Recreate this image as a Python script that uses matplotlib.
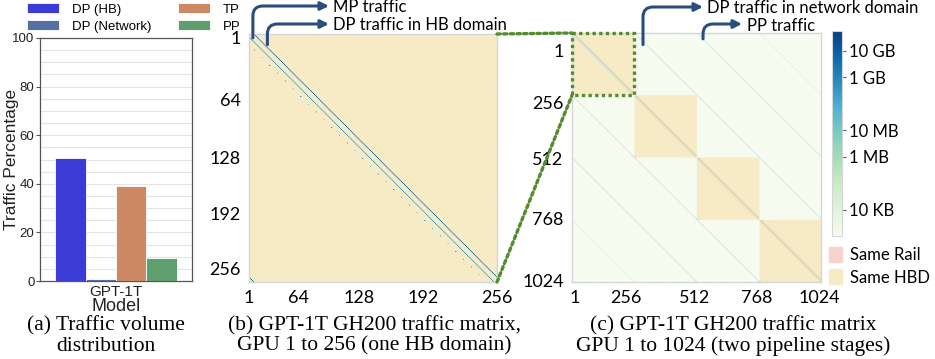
import numpy as np
import matplotlib
matplotlib.use("Agg")
import matplotlib.pyplot as plt
from matplotlib.colors import LogNorm, to_rgb
from matplotlib.patches import Patch, Rectangle, ConnectionPatch, FancyArrowPatch
from matplotlib.cm import ScalarMappable
from matplotlib import font_manager as fm

# ---------------- data ----------------
categories = ["GPT-1T"]
series_names = ["DP (HB)", "DP (Network)", "TP", "PP"]
series_values = [50.5, 0.8, 39.0, 9.5]
series_colors = ["#3b3bd6", "#5470a0", "#cc8963", "#5f9e6e"]

# traffic-matrix patterns (bytes per GPU pair)
N_HB = 256
N_GPU = 1024
mp_shift = 5
mp_bytes = 8.0e9
dp_hb_shift = -3
dp_hb_bytes = 4.0e8
dp_dot_shift = -11
dp_dot_step = 8
dp_dot_bytes = [5e9, 1e8, 1e9, 3e7]
dp_net_shifts = [256, -256]
dp_net_bytes = 1.0e9
pp_shifts = [512, -512]
pp_bytes = 1.0e9
far_shifts = [768, -768]
far_bytes = 5e6

cbar_ticks = [1e4, 1e6, 1e7, 1e9, 1e10]
cbar_labels = ["10 KB", "1 MB", "10 MB", "1 GB", "10 GB"]
vmin, vmax = 1e3, 10 ** 10.75

b_tick_labels = ["1", "64", "128", "192", "256"]
b_xtick_pos = [0, 51, 114, 180, 256]
b_ytick_pos = [4, 68, 127, 185, 242]
c_tick_labels = ["1", "256", "512", "768", "1024"]
c_xtick_pos = [12, 222, 506, 761, 1016]
c_ytick_pos = [70, 284, 518, 761, 1016]

# ---------------- fonts ----------------
def have(fam):
    try:
        fm.findfont(fm.FontProperties(family=fam), fallback_to_default=False)
        return True
    except Exception:
        return False

NARROW = "Liberation Sans Narrow" if have("Liberation Sans Narrow") else "Liberation Sans"
SANS = "Lato"
SERIF = "Liberation Serif"

W, H = 935, 359
fig = plt.figure(figsize=(W / 100, H / 100), dpi=100)

def px(x, y):
    return (x / W, 1 - y / H)

def rect(l, t, r, b):
    return [l / W, 1 - b / H, (r - l) / W, (b - t) / H]

# ---------------- panel (a) ----------------
ax_a = fig.add_axes(rect(40, 38, 192, 281))
n = len(series_names)
bw = 0.8 / n
for i, (nm, v, c) in enumerate(zip(series_names, series_values, series_colors)):
    xpos = np.arange(len(categories)) - 0.4 + bw * (i + 0.5)
    ax_a.bar(xpos, [v], width=bw, color=c, edgecolor="white", linewidth=0.6, label=nm, zorder=3)
ax_a.set_xlim(-0.5, 0.5)
ax_a.set_ylim(0, 100)
ax_a.set_yticks(np.arange(0, 101, 20))
ax_a.set_yticks(np.arange(0, 101, 5), minor=True)
ax_a.grid(True, which="both", axis="y", color="#e4e4e4", linewidth=0.8, zorder=0)
ax_a.set_xticks(range(len(categories)))
ax_a.set_xticklabels(categories, fontsize=11, family=NARROW, color="#222222")
ax_a.tick_params(axis="x", length=0, pad=3)
ax_a.tick_params(axis="y", which="major", length=3, color="#555555", labelsize=9.5, pad=1)
ax_a.tick_params(axis="y", which="minor", length=0)
for lab in ax_a.get_yticklabels():
    lab.set_family(NARROW)
    lab.set_color("#222222")
ax_a.set_ylabel("Traffic Percentage", family=NARROW, fontsize=12.5, color="#222222")
ax_a.yaxis.set_label_coords(-0.138, 0.5)
ax_a.set_xlabel("Model", family=NARROW, fontsize=13, color="#222222", labelpad=-1)
for s in ax_a.spines.values():
    s.set_color("#555555")
    s.set_linewidth(0.9)
h, l = ax_a.get_legend_handles_labels()
fig.legend(h, l, ncol=2,
           loc="upper left", bbox_to_anchor=px(22, -2), frameon=False,
           prop={"family": NARROW, "size": 9.5}, handlelength=2.4, handleheight=0.75,
           columnspacing=2.0, labelspacing=0.35, handletextpad=1.0, borderaxespad=0)

# ---------------- traffic matrices ----------------
def build_matrix(n_gpu):
    M = np.zeros((n_gpu, n_gpu))
    hbd = np.zeros((n_gpu, n_gpu), dtype=bool)
    for b0 in range(0, n_gpu, N_HB):
        hbd[b0:b0 + N_HB, b0:b0 + N_HB] = True
        for r in range(N_HB):
            M[b0 + r, b0 + (r + mp_shift) % N_HB] = mp_bytes
            cc = r + dp_hb_shift
            if 0 <= cc < N_HB:
                M[b0 + r, b0 + cc] = dp_hb_bytes
            cd = r + dp_dot_shift
            if 0 <= cd < N_HB and r % dp_dot_step == 0:
                M[b0 + r, b0 + cd] = dp_dot_bytes[(r // dp_dot_step) % len(dp_dot_bytes)]
    for shifts, val in ((dp_net_shifts, dp_net_bytes), (pp_shifts, pp_bytes), (far_shifts, far_bytes)):
        for s in shifts:
            for r in range(n_gpu):
                c = r + s
                if 0 <= c < n_gpu:
                    M[r, c] = val
    return M, hbd

cmap = plt.get_cmap("GnBu")
norm = LogNorm(vmin=vmin, vmax=vmax)
bg_off = np.array(to_rgb("#f7fcf0"))
bg_hbd = np.array(to_rgb("#f7ebc6"))

def draw_matrix(ax, n_gpu):
    M, hbd = build_matrix(n_gpu)
    rgb = np.where(hbd[..., None], bg_hbd, bg_off)
    has = M > 0
    colors = cmap(norm(np.where(has, M, vmin)))[..., :3]
    rgb = np.where(has[..., None], colors, rgb)
    ax.imshow(rgb, extent=(0, n_gpu, n_gpu, 0), interpolation="antialiased", aspect="auto")
    ax.set_xlim(0, n_gpu)
    ax.set_ylim(n_gpu, 0)
    for s in ax.spines.values():
        s.set_color("#d6d6d6")
        s.set_linewidth(1.0)
    ax.tick_params(length=0, labelsize=13, pad=6)

ax_b = fig.add_axes(rect(249, 34, 497, 282))
draw_matrix(ax_b, N_HB)
ax_b.set_xticks(b_xtick_pos)
ax_b.set_xticklabels(b_tick_labels, family=SANS, fontsize=13)
ax_b.set_yticks(b_ytick_pos)
ax_b.set_yticklabels(b_tick_labels, family=SANS, fontsize=13)

ax_c = fig.add_axes(rect(572, 33, 821, 282))
draw_matrix(ax_c, N_GPU)
ax_c.set_xticks(c_xtick_pos)
ax_c.set_xticklabels(c_tick_labels, family=SANS, fontsize=13)
ax_c.set_yticks(c_ytick_pos)
ax_c.set_yticklabels(c_tick_labels, family=SANS, fontsize=13)

# colorbar
cax = fig.add_axes(rect(832, 31, 842, 236))
cb = fig.colorbar(ScalarMappable(norm=norm, cmap=cmap), cax=cax)
cb.set_ticks(cbar_ticks)
cb.set_ticklabels(cbar_labels)
cb.ax.minorticks_off()
cb.ax.tick_params(length=3, width=0.8, color="#666666", labelsize=12, pad=2)
for lab in cb.ax.get_yticklabels():
    lab.set_family(SANS)
cb.outline.set_edgecolor("#d6d6d6")

fig.legend([Patch(color="#f6d3cc"), Patch(color="#f7ebc6")], ["Same Rail", "Same HBD"],
           loc="upper left", bbox_to_anchor=px(822, 240), frameon=False,
           prop={"family": SANS, "size": 12}, handlelength=0.8, handleheight=1.0,
           handletextpad=0.45, labelspacing=0.4, borderaxespad=0)

# ---------------- zoom connectors ----------------
green = "#548c30"
ls = (0, (1, 1))
ax_c.add_patch(Rectangle((0, 0), N_HB, N_HB, fill=False, edgecolor=green, linewidth=2.4,
                         linestyle=ls, zorder=5, clip_on=False))
for pb, pc in (((N_HB, 0), (0, 0)), ((N_HB, N_HB), (0, N_HB))):
    con = ConnectionPatch(xyA=pb, coordsA=ax_b.transData, xyB=pc, coordsB=ax_c.transData,
                          color=green, linewidth=2.4, linestyle=ls)
    fig.add_artist(con)

# ---------------- arrows & labels ----------------
arrow_col = "#2a4d80"

def bent_arrow(start_ax, start, head, text, text_x, baseline):
    fig.add_artist(FancyArrowPatch(
        posA=start_ax.transData.transform(start), posB=(head[0], H - head[1]),
        transform=None, arrowstyle="-|>", mutation_scale=12,
        connectionstyle="angle,angleA=90,angleB=0,rad=10",
        color=arrow_col, linewidth=2.2, shrinkA=0, shrinkB=0))
    fig.text(text_x / W, 1 - baseline / H, text, family=SANS, fontsize=12,
             va="baseline", ha="left", color="black")

bent_arrow(ax_b, (4, 4), (329, 6), "MP traffic", 333, 12)
bent_arrow(ax_b, (19, 11), (329, 24), "DP traffic in HB domain", 333, 30)
bent_arrow(ax_c, (292, 48), (703, 7), "DP traffic in network domain", 707, 13)
bent_arrow(ax_c, (539, 24), (742, 24), "PP traffic", 747, 31)

# ---------------- captions ----------------
cap_kw = dict(family=SERIF, fontsize=15.5, ha="center", va="top", linespacing=1.08)
fig.text(106 / W, 1 - 316 / H, "(a) Traffic volume\ndistribution", **cap_kw)
fig.text(374 / W, 1 - 316 / H, "(b) GPT-1T GH200 traffic matrix,\nGPU 1 to 256 (one HB domain)", **cap_kw)
fig.text(733 / W, 1 - 316 / H, "(c) GPT-1T GH200 traffic matrix\nGPU 1 to 1024 (two pipeline stages)", **cap_kw)

fig.savefig("out.png", dpi=100)
